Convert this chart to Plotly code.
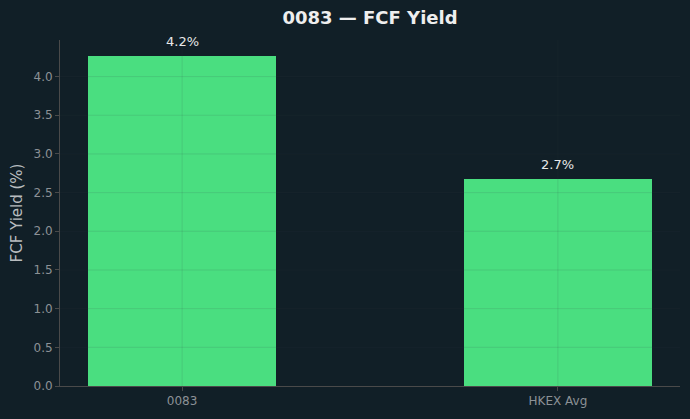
import plotly.graph_objects as go

categories = ["0083", "HKEX Avg"]
values = [4.26, 2.67]
labels = ["4.2%", "2.7%"]
yticks = [0.0, 0.5, 1.0, 1.5, 2.0, 2.5, 3.0, 3.5, 4.0]

BG = "#111f27"
BAR = "#4ade80"
GRID = "rgba(55,65,72,0.16)"
SPINE = "#4a4a4a"
TICK = "#8c9196"

idx = list(range(len(categories)))

fig = go.Figure()
fig.add_trace(go.Bar(x=idx, y=values, width=0.5,
                     marker=dict(color=BAR, line=dict(width=0)),
                     hoverinfo="skip"))

shapes = []
for t in yticks[1:]:
    shapes.append(dict(type="line", xref="paper", yref="y", x0=0, x1=1, y0=t, y1=t,
                       line=dict(color=GRID, width=0.8), layer="above"))
for i in idx:
    shapes.append(dict(type="line", xref="x", yref="paper", x0=i, x1=i, y0=0, y1=1,
                       line=dict(color=GRID, width=0.8), layer="above"))

annotations = []
for i, v, l in zip(idx, values, labels):
    annotations.append(dict(x=i, y=v, xref="x", yref="y", text=l, showarrow=False,
                            yanchor="bottom", yshift=5,
                            font=dict(size=13, color="#e8e8e8", family="DejaVu Sans")))

ymax = max(values) * 1.05
fig.update_layout(
    width=690, height=419,
    margin=dict(l=60, r=10, t=40, b=33),
    paper_bgcolor=BG, plot_bgcolor=BG,
    title=dict(text="<b>0083 — FCF Yield</b>", x=0.5, xref="paper", xanchor="center",
               y=1 - 18/419, yanchor="middle",
               font=dict(family="DejaVu Sans", size=18, color="#eeeeee")),
    font=dict(family="DejaVu Sans", color=TICK, size=12),
    showlegend=False,
    bargap=0,
    shapes=shapes,
    annotations=annotations,
    xaxis=dict(range=[-0.325, 1.325], tickvals=idx, ticktext=categories,
               showgrid=False, zeroline=False,
               showline=True, linecolor=SPINE, linewidth=1,
               ticks="outside", ticklen=4, tickcolor=SPINE,
               tickfont=dict(size=12, color=TICK)),
    yaxis=dict(range=[0, ymax], tickvals=yticks,
               ticktext=[f"{t:.1f}" for t in yticks],
               showgrid=False, zeroline=False,
               showline=True, linecolor=SPINE, linewidth=1,
               ticks="outside", ticklen=4, tickcolor=SPINE,
               tickfont=dict(size=12, color=TICK),
               title=dict(text="FCF Yield (%)", standoff=7,
                          font=dict(size=15, color="#b8bcbf"))),
)

fig.write_html("out.html")
